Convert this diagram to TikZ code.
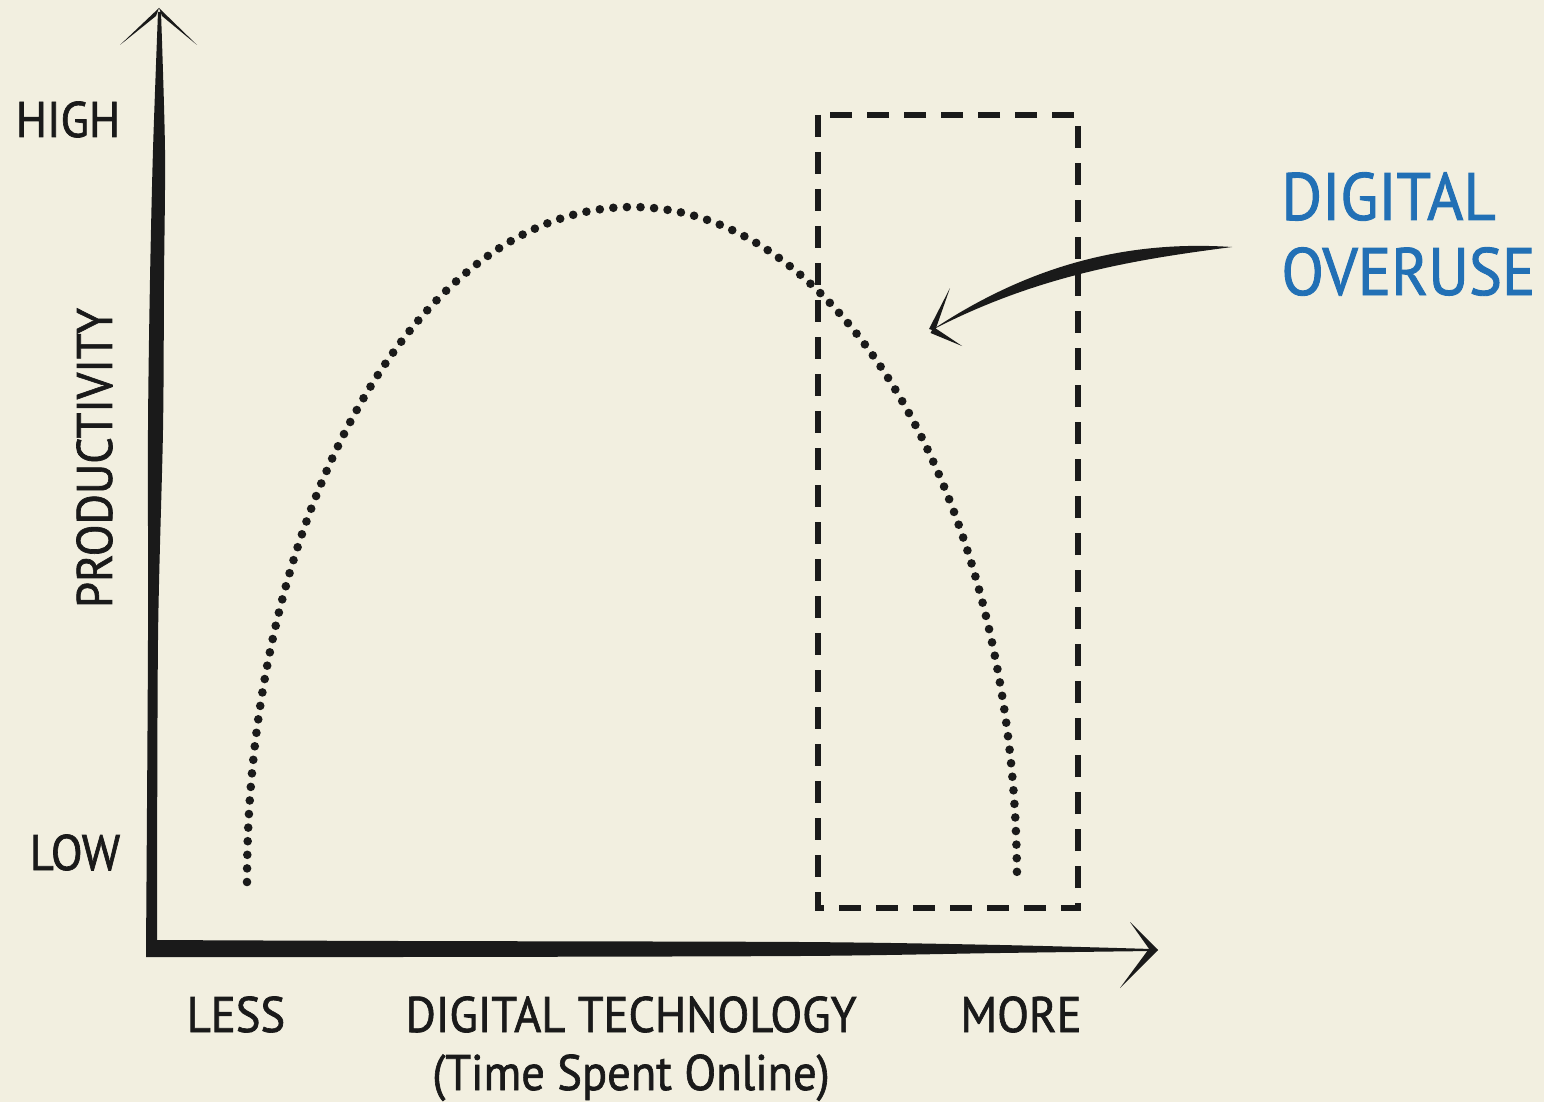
\documentclass[tikz,border=0pt]{standalone}
\usepackage{fontspec}
\setmainfont{PT Sans}[FakeStretch=0.93,FakeBold=1.3]
\definecolor{bg}{HTML}{F2EFE0}
\definecolor{ink}{HTML}{1A1A1A}
\definecolor{blu}{HTML}{2270B5}
\tikzset{
  lbl/.style={text=ink, font=\fontsize{25}{28}\selectfont, inner sep=0pt},
  blbl/.style={text=blu, font=\fontsize{33.5}{38}\selectfont, inner sep=0pt},
  dotcurve/.style={ink, line width=4.3pt, line cap=round, dash pattern=on 0pt off 6.8pt},
  dashbox/.style={ink, line width=2.6pt, dash pattern=on 11pt off 7.5pt},
}
\begin{document}
\begin{tikzpicture}[x=0.5pt,y=-0.5pt]
\fill[bg] (0,0) rectangle (1544,1102);
\useasboundingbox (0,0) rectangle (1544,1102);
% coordinates
\coordinate (yapex) at (159,8);
\coordinate (xapex) at (1158,950);
\coordinate (tip) at (932,330);
% Y axis (brush)
\fill[ink] plot[smooth] coordinates {(146,953) (148,640) (148,430) (150,280) (153,150) (158,12)}
  -- plot[smooth] coordinates {(161,12) (165,150) (164,280) (163,430) (158,640) (157,953)} -- cycle;
% Y arrowhead
\fill[ink] (yapex) -- (120,45) -- (156,16) -- cycle;
\fill[ink] (yapex) -- (197,45) -- (162,16) -- cycle;
% X axis (brush)
\fill[ink] plot[smooth] coordinates {(146,940) (400,941) (800,942) (1000,945) (1152,949)}
  -- plot[smooth] coordinates {(1152,951) (1000,953) (800,956) (400,957) (146,957)} -- cycle;
% X arrowhead
\fill[ink] (xapex) -- (1130,922) -- (1152,953) -- cycle;
\fill[ink] (xapex) -- (1120,988) -- (1151,946) -- cycle;
% dotted half-ellipse
\draw[dotcurve] (247,882) arc[start angle=180, end angle=360, x radius=385, y radius=675];
% dashed rectangle
\draw[dashbox] (818,115) rectangle (1078,908);
% overuse arrow (brush)
\fill[ink] (1232,247) .. controls (1140,241) and (1040,258) .. (tip)
  .. controls (1040,274) and (1140,259) .. (1232,247) -- cycle;
\fill[ink] (929,329) -- (935,331) -- (950,288) -- cycle;
\fill[ink] (930.6,333) -- (933.6,327) -- (962,346) -- cycle;
% labels
\node[lbl, anchor=base] (high) at (68,137) {HIGH};
\node[lbl, anchor=base] (low) at (75,870) {LOW};
\node[lbl, anchor=base, rotate=90] (prod) at (112,458) {PRODUCTIVITY};
\node[lbl, anchor=base] (less) at (236,1032) {LESS};
\node[lbl, anchor=base] (dt) at (631,1032) {DIGITAL TECHNOLOGY};
\node[lbl, anchor=base] (more) at (1021,1032) {MORE};
\node[lbl, anchor=base] (tso) at (631,1090) {(Time Spent Online)};
\node[blbl, anchor=base west] (dig) at (1281,220) {DIGITAL};
\node[blbl, anchor=base west] (ovr) at (1281,295) {OVERUSE};
\end{tikzpicture}
\end{document}
